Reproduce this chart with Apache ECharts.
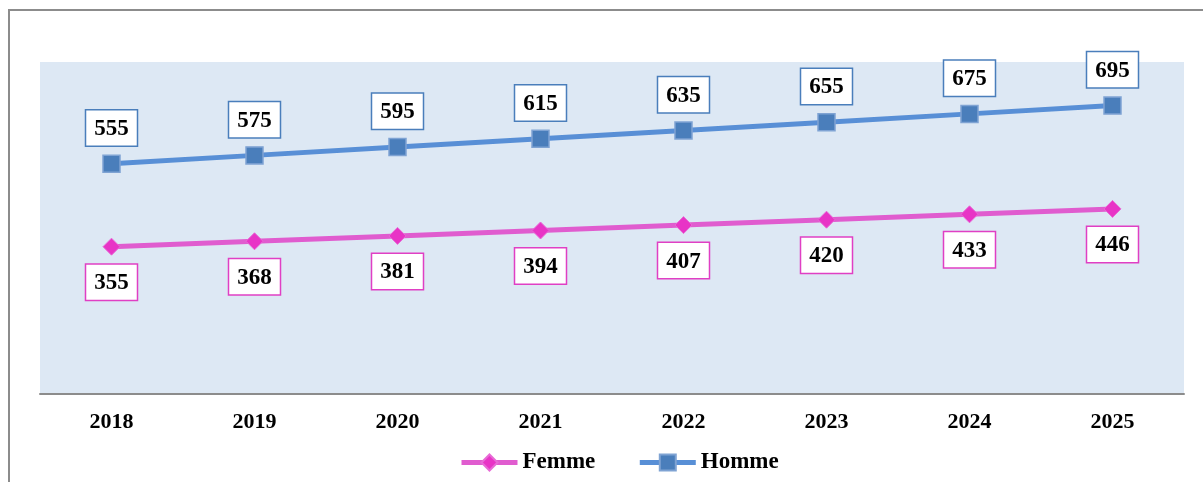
<!DOCTYPE html>
<html>
<head>
<meta charset="utf-8">
<script src="https://cdn.jsdelivr.net/npm/echarts@6/dist/echarts.min.js"></script>
<style>
  html, body { margin: 0; padding: 0; background: #fff; }
  #main { width: 1203px; height: 482px; }
</style>
</head>
<body>
<div id="main"></div>
<script>
let years = ['2018', '2019', '2020', '2021', '2022', '2023', '2024', '2025'];
let femme = [355, 368, 381, 394, 407, 420, 433, 446];
let homme = [555, 575, 595, 615, 635, 655, 675, 695];

let myChart = echarts.init(document.getElementById('main'));
let font = 'Liberation Serif';

// étiquette encadrée
function boxLabel(pos, color) {
  return {
    show: true,
    position: pos,
    distance: 9,
    fontFamily: font,
    fontWeight: 'bold',
    fontSize: 23,
    color: '#000',
    backgroundColor: '#fff',
    borderColor: color,
    borderWidth: 1.5,
    padding: [7, 8, 5, 8]
  };
}

let chartOption = {
  animation: false,
  graphic: [{
    type: 'rect',
    shape: { x: 9, y: 10, width: 1220, height: 500 },
    style: { fill: 'none', stroke: '#8c8c8c', lineWidth: 2 },
    silent: true
  }],
  grid: {
    left: 40, right: 19, top: 62, bottom: 88,
    show: true, backgroundColor: '#dde8f4', borderWidth: 0
  },
  legend: {
    bottom: 3,
    left: 454,
    itemWidth: 56,
    itemHeight: 20,
    itemGap: 42,
    lineStyle: { width: 5 },
    textStyle: { fontFamily: font, fontWeight: 700, fontSize: 23, color: '#000' },
    data: ['Femme', 'Homme']
  },
  xAxis: {
    type: 'category',
    data: years,
    boundaryGap: true,
    axisLine: { lineStyle: { color: '#8c8c8c', width: 2 } },
    axisTick: { show: false },
    axisLabel: { fontFamily: font, fontWeight: 700, fontSize: 22, color: '#000', margin: 17 }
  },
  yAxis: {
    type: 'value',
    min: 0,
    max: 800,
    show: false,
    splitLine: { show: false }
  },
  series: [
    {
      name: 'Femme',
      type: 'line',
      data: femme,
      symbol: 'diamond',
      symbolSize: 17,
      lineStyle: { color: '#e05ccf', width: 5 },
      itemStyle: { color: '#e834c6', borderColor: '#e86ad6', borderWidth: 1 },
      label: boxLabel('bottom', '#e03fc4'),
      emphasis: { disabled: true }
    },
    {
      name: 'Homme',
      type: 'line',
      data: homme,
      symbol: 'rect',
      symbolSize: 17,
      lineStyle: { color: '#588fd6', width: 5 },
      itemStyle: { color: '#4a7ebb', borderColor: '#7fa3d3', borderWidth: 1.5 },
      label: boxLabel('top', '#4a7ebb'),
      emphasis: { disabled: true }
    }
  ]
};

chartOption && myChart.setOption(chartOption);
</script>
</body>
</html>
